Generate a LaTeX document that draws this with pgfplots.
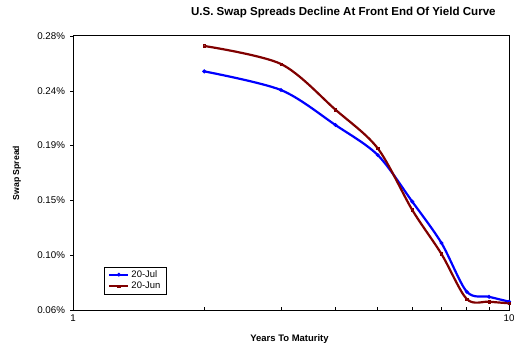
\documentclass[border=0pt]{standalone}
\usepackage{pgfplots}
\pgfplotsset{compat=1.18}
\usepackage{fontspec}
\setmainfont{Liberation Sans}
\definecolor{jun}{RGB}{128,0,0}
\definecolor{jul}{RGB}{0,0,255}
\begin{document}
\begin{tikzpicture}[x=1bp,y=1bp]
\useasboundingbox (-73,-36) rectangle (441,310);
\begin{axis}[
  at={(0,0)}, anchor=origin,
  scale only axis, width=436bp, height=274bp,
  xmode=log, xmin=1, xmax=10,
  ymin=0.06, ymax=0.28,
  xtick={1,10}, xticklabels={1,10},
  minor xtick={2,3,4,5,6,7,8,9},
  ytick={0.06,0.104,0.148,0.192,0.236,0.28},
  yticklabels={0.06\%,0.10\%,0.15\%,0.19\%,0.24\%,0.28\%},
  tick pos=left,
  tick align=inside,
  major tick length=3bp, minor tick length=3bp,
  ytick style={xshift=-3bp, black, line width=0.6bp},
  xtick style={black, line width=0.6bp},
  minor x tick style={black, line width=0.6bp},
  axis line style={black, line width=1bp},
  tick label style={font=\fontsize{9.8}{11}\selectfont},
  yticklabel style={xshift=-4.5bp},
  xticklabel style={yshift=-1bp},
  legend image code/.code={\draw[mark repeat=2,mark phase=2,#1] plot coordinates {(0bp,0bp) (9.5bp,0bp) (19bp,0bp)};},
  legend style={at={(0.0711,0.158)}, anchor=north west, draw=black, line width=0.6bp,
    font=\fontsize{9.5}{11}\selectfont, inner xsep=4bp, inner ysep=1.5bp, row sep=-0.5bp,
    legend cell align=left,
    /tikz/every even column/.append style={column sep=0bp}},
  clip=false,
]
\addplot[jul, line width=2.2bp, smooth, mark=*, mark size=0.6bp] coordinates {
(2,0.2516) (3,0.2366) (4,0.2085) (5,0.1844) (6,0.147) (7,0.1138) (8,0.0747) (9,0.0706) (10,0.0667)
};
\addlegendentry{20-Jul}
\addplot[jun, line width=2.2bp, smooth, mark=square, mark size=1.2bp, mark options={line width=0.6bp, fill=white}] coordinates {
(2,0.272) (3,0.2575) (4,0.2208) (5,0.1898) (6,0.1403) (7,0.105) (8,0.0688) (9,0.0667) (10,0.0654)
};
\addlegendentry{20-Jun}
\end{axis}
\node[font=\bfseries\fontsize{11.6}{13}\selectfont] at (270.3,297) {U.S. Swap Spreads Decline At Front End Of Yield Curve};
\node[font=\bfseries\fontsize{8.7}{10}\selectfont, rotate=90] at (-56,137) {Swap Spread};
\node[font=\bfseries\fontsize{9.5}{11}\selectfont] at (216.5,-29) {Years To Maturity};
\end{tikzpicture}
\end{document}
